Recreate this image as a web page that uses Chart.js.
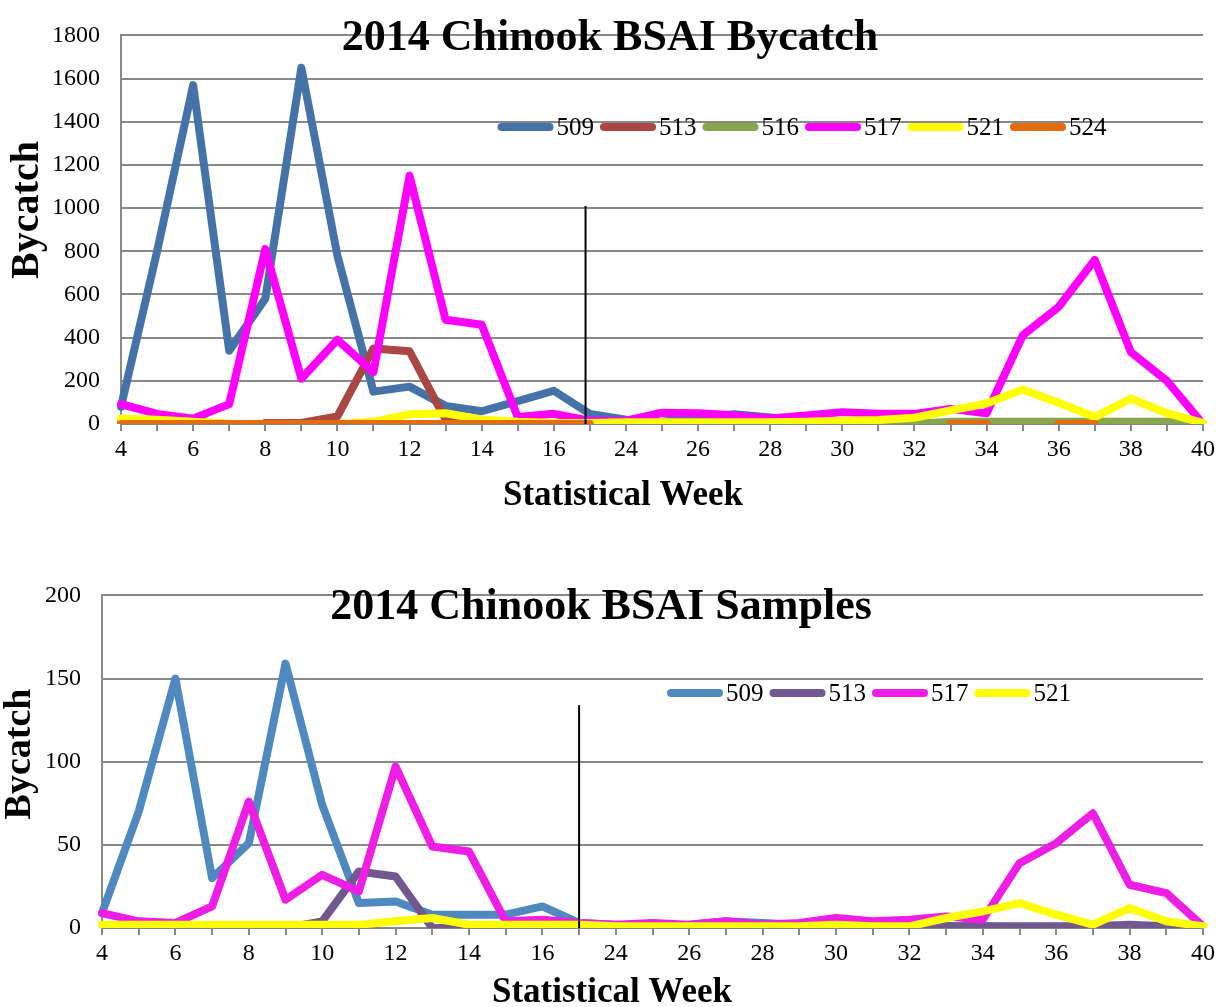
<!DOCTYPE html>
<html>
<head>
<meta charset="utf-8">
<title>2014 Chinook BSAI Bycatch</title>
<script src="https://cdn.jsdelivr.net/npm/chart.js@4.4.1/dist/chart.umd.min.js"></script>
<style>
  html, body { margin: 0; padding: 0; background: #fff; overflow: hidden; }
  #page { position: relative; width: 1222px; height: 1007px; }
  canvas { position: absolute; left: 0; }
  #bycatch-chart { top: 0; }
  #samples-chart { top: 560px; }
</style>
</head>
<body>
<div id="page">
  <canvas id="bycatch-chart" width="1222" height="520"></canvas>
  <canvas id="samples-chart" width="1222" height="460"></canvas>
</div>
<script>
// Semanas estadísticas (hay un salto de la 17 a la 24)
const weeks = ["4", "5", "6", "7", "8", "9", "10", "11", "12", "13", "14", "15", "16", "17",
  "24", "25", "26", "27", "28", "29", "30", "31", "32", "33", "34", "35", "36", "37", "38", "39", "40"];

// Gráfica superior: captura incidental por área
const bycatch509 = [80, 800, 1570, 340, 580, 1650, 780, 150, 173, 84, 59, 106, 154, 47,
  20, 10, 30, 45, 30, 15, 10, 8, 5, 5, 3, 0, 0, 0, 0, 0, 0];
const bycatch513 = [null, null, null, null, 5, 5, 35, 350, 337, 20, 0, 0, 0, 0,
  null, null, null, null, null, null, null, null, null, null, null, null, 0, 5, 3, 3, null];
const bycatch516 = [15, 15, 10, 0, null, null, null, null, null, null, null, null, null, null,
  null, null, null, null, null, null, null, 0, 0, 10, 10, 10, 10, 10, 10, 10, 0];
const bycatch517 = [92, 47, 25, 92, 810, 210, 390, 240, 1150, 483, 460, 32, 47, 15,
  15, 52, 50, 40, 25, 40, 55, 47, 47, 70, 50, 410, 543, 760, 333, 200, 0];
const bycatch521 = [25, 20, 10, 0, 0, 0, 0, 10, 45, 50, 20, 10, 5, 5,
  8, 8, 8, 8, 8, 10, 15, 19, 29, 63, 95, 160, 98, 32, 118, 50, 5];
const bycatch524 = [0, 0, 0, 0, 0, 0, 0, 0, 0, 0, 0, 0, 0, 0,
  null, null, null, null, null, null, null, null, null, 0, 0, null, 0, 0, null, null, null];

// Gráfica inferior: muestras por área
const samples509 = [9, 70, 150, 30, 51, 159, 74, 15, 16, 8, 8, 8, 13, 3,
  2, 1, 2, 4, 3, 2, 1, 1, 1, 1, 1, 0, 0, 0, 0, 0, 0];
const samples513 = [null, null, null, 0, 1, 0, 4, 34, 31, 0, 0, 0, 0, 0,
  null, null, null, null, null, null, null, null, 0, 1, 1, 1, 1, 1, 2, 1, 0];
const samples517 = [9, 4, 3, 13, 76, 17, 32, 22, 97, 49, 46, 4, 5, 3,
  2, 3, 2, 4, 2, 3, 6, 4, 5, 7, 5, 39, 51, 69, 26, 21, 1];
const samples521 = [2, 2, 2, 2, 2, 2, 2, 2, 4, 6, 2, 2, 2, 2,
  1, 1, 1, 1, 1, 1, 2, 1, 1, 6, 10, 15, 8, 2, 12, 4, 1];

const serif = "'Liberation Serif', 'Times New Roman', serif";
const gridGray = "#898989";

/**
 * Serie de líneas; el orden hace que la última serie quede encima (como Excel)
 */
const serie = (label, data, color, order) => ({
  label,
  data,
  borderColor: color,
  backgroundColor: color,
  borderWidth: 8,
  borderJoinStyle: "round",
  borderCapStyle: "round",
  pointRadius: 0,
  spanGaps: false,
  fill: false,
  order,
});

/**
 * Título, títulos de ejes, leyenda y línea vertical de corte
 */
const decor = {
  id: "decor",
  afterDatasetsDraw(chart, args, o) {
    const { ctx, scales: { x, y } } = chart;
    const mx = x.getPixelForValue(o.marker.at);
    ctx.save();
    ctx.strokeStyle = "#000";
    ctx.lineWidth = 2;
    ctx.beginPath();
    ctx.moveTo(mx, y.getPixelForValue(o.marker.top));
    ctx.lineTo(mx, y.getPixelForValue(0));
    ctx.stroke();
    ctx.restore();
  },
  afterDraw(chart, args, o) {
    const { ctx } = chart;
    ctx.save();
    ctx.fillStyle = "#000";
    ctx.textAlign = "center";
    ctx.textBaseline = "alphabetic";
    ctx.font = `bold 44px ${serif}`;
    ctx.fillText(o.title.text, o.title.x, o.title.y);
    ctx.font = `bold 35px ${serif}`;
    ctx.fillText(o.xTitle.text, o.xTitle.x, o.xTitle.y);
    ctx.save();
    ctx.translate(o.yTitle.x, o.yTitle.y);
    ctx.rotate(-Math.PI / 2);
    ctx.textBaseline = "middle";
    ctx.font = `bold ${o.yTitle.size}px ${serif}`;
    ctx.fillText(o.yTitle.text, 0, 0);
    ctx.restore();

    // Leyenda horizontal dentro del área del gráfico
    const sets = chart.data.datasets;
    const sample = 56, gapText = 3, gapItem = 6;
    ctx.font = `25px ${serif}`;
    const widths = sets.map((d) => sample + gapText + ctx.measureText(d.label).width);
    const total = widths.reduce((a, b) => a + b, 0) + gapItem * (sets.length - 1);
    let lx = o.legend.cx - total / 2;
    sets.forEach((d, i) => {
      ctx.strokeStyle = d.borderColor;
      ctx.lineWidth = 8;
      ctx.lineCap = "round";
      ctx.beginPath();
      ctx.moveTo(lx + 4, o.legend.y);
      ctx.lineTo(lx + sample - 4, o.legend.y);
      ctx.stroke();
      ctx.fillStyle = "#000";
      ctx.textAlign = "left";
      ctx.textBaseline = "middle";
      ctx.fillText(d.label, lx + sample + gapText, o.legend.y + 1);
      lx += widths[i] + gapItem;
    });
    ctx.restore();
  },
};

/**
 * Opciones comunes para ambas gráficas
 */
const buildOptions = ({ yMax, yStep, yAxisWidth, padTop, xAxisHeight, decorOpts }) => ({
  responsive: false,
  animation: false,
  layout: { padding: { top: padTop, right: 19, left: 0, bottom: 0 } },
  plugins: {
    legend: { display: false },
    tooltip: { enabled: false },
    decor: decorOpts,
  },
  scales: {
    x: {
      offset: false,
      grid: { drawOnChartArea: false, drawTicks: true, tickLength: 7, color: gridGray, lineWidth: 2 },
      border: { color: gridGray, width: 2 },
      ticks: {
        autoSkip: false,
        maxRotation: 0,
        padding: 4,
        color: "#000",
        font: { family: serif, size: 24 },
        callback: (v, i) => (i % 2 === 0 ? weeks[i] : ""),
      },
      afterFit: (s) => { s.height = xAxisHeight; },
    },
    y: {
      min: 0,
      max: yMax,
      grid: { color: gridGray, lineWidth: 2, drawTicks: false },
      border: { color: gridGray, width: 2 },
      ticks: {
        stepSize: yStep,
        padding: 21,
        color: "#000",
        font: { family: serif, size: 24 },
        callback: (v) => String(v),
      },
      afterFit: (s) => { s.width = yAxisWidth; },
    },
  },
});

new Chart(document.getElementById("bycatch-chart"), {
  type: "line",
  data: {
    labels: weeks,
    datasets: [
      serie("509", bycatch509, "#4572A7", 5),
      serie("513", bycatch513, "#AA4643", 4),
      serie("516", bycatch516, "#89A54E", 3),
      serie("517", bycatch517, "#FF00FF", 2),
      serie("521", bycatch521, "#FFFF00", 1),
      serie("524", bycatch524, "#E46C0A", 0),
    ],
  },
  options: buildOptions({
    yMax: 1800,
    yStep: 200,
    yAxisWidth: 121,
    padTop: 18,
    xAxisHeight: 96,
    decorOpts: {
      title: { text: "2014 Chinook BSAI Bycatch", x: 610, y: 50 },
      xTitle: { text: "Statistical Week", x: 623, y: 505 },
      yTitle: { text: "Bycatch", x: 28, y: 210, size: 40 },
      legend: { cx: 802, y: 127 },
      marker: { at: 12.88, top: 1010 },
    },
  }),
  plugins: [decor],
});

new Chart(document.getElementById("samples-chart"), {
  type: "line",
  data: {
    labels: weeks,
    datasets: [
      serie("509", samples509, "#4F89BF", 3),
      serie("513", samples513, "#71588F", 2),
      serie("517", samples517, "#EE1EE6", 1),
      serie("521", samples521, "#FFFF00", 0),
    ],
  },
  options: buildOptions({
    yMax: 200,
    yStep: 50,
    yAxisWidth: 102,
    padTop: 23,
    xAxisHeight: 92,
    decorOpts: {
      title: { text: "2014 Chinook BSAI Samples", x: 601, y: 59 },
      xTitle: { text: "Statistical Week", x: 612, y: 442 },
      yTitle: { text: "Bycatch", x: 20, y: 194, size: 38 },
      legend: { cx: 869, y: 133 },
      marker: { at: 13, top: 134 },
    },
  }),
  plugins: [decor],
});
</script>
</body>
</html>
